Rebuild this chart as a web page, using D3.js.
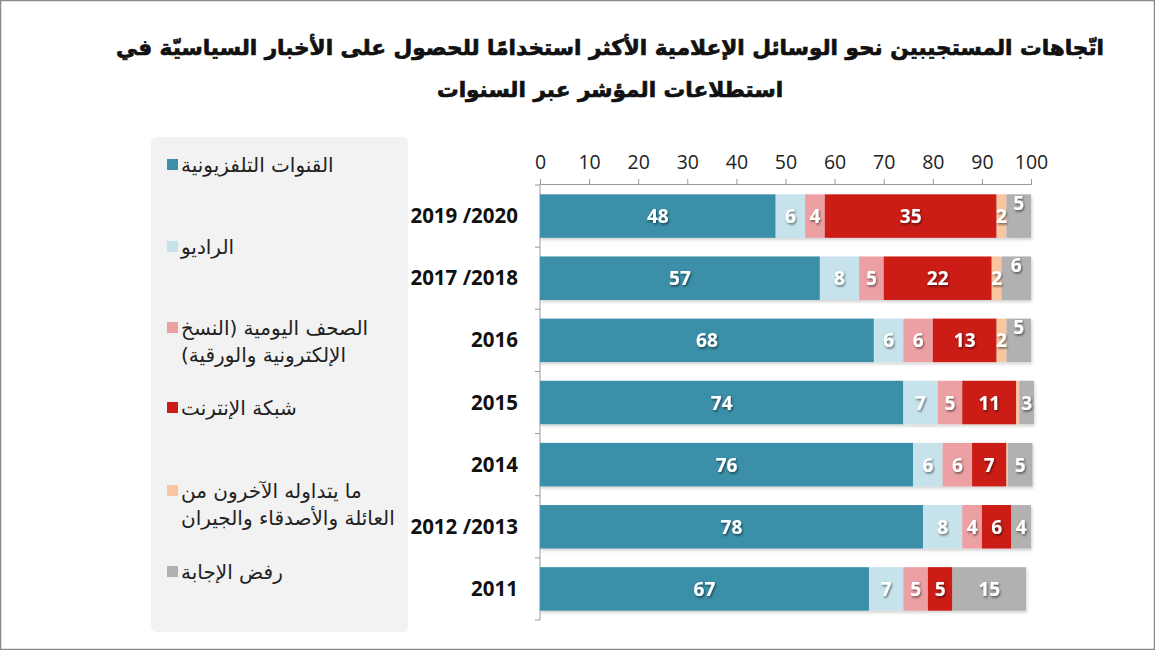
<!DOCTYPE html>
<html><head><meta charset="utf-8">
<script src="https://cdn.jsdelivr.net/npm/d3@7"></script>
<style>
html,body{margin:0;padding:0;background:#fff;}
svg{display:block;}
</style></head>
<body>
<svg id="chart" width="1155" height="650"></svg>
<script>
const titleLines = [
  "اتّجاهات المستجيبين نحو الوسائل الإعلامية الأكثر استخدامًا للحصول على الأخبار السياسيّة في",
  "استطلاعات المؤشر عبر السنوات"
];
const categories = ["2019 /2020", "2017 /2018", "2016", "2015", "2014", "2012 /2013", "2011"];
const seriesNames = [
  ["القنوات التلفزيونية"],
  ["الراديو"],
  ["الصحف اليومية (النسخ", "الإلكترونية والورقية)"],
  ["شبكة الإنترنت"],
  ["ما يتداوله الآخرون من", "العائلة والأصدقاء والجيران"],
  ["رفض الإجابة"]
];
const colors = ["#3b8fa8", "#c6e3ec", "#eca0a4", "#cb1c17", "#f9c6a0", "#b1b1b1"];
const tv       = [48, 57, 68, 74, 76, 78, 67];
const radio    = [6, 8, 6, 7, 6, 8, 7];
const papers   = [4, 5, 6, 5, 6, 4, 5];
const internet = [35, 22, 13, 11, 7, 6, 5];
const others   = [2, 2, 2, 0.6, 0.3, 0, 0];
const refused  = [5, 6, 5, 3, 5, 4, 15];
const xTicks = [0, 10, 20, 30, 40, 50, 60, 70, 80, 90, 100];

const series = [tv, radio, papers, internet, others, refused];
const RLM = "\u200F";

const svg = d3.select("#chart");
const defs = svg.append("defs");
const f = defs.append("filter").attr("id", "tshadow").attr("x", "-30%").attr("y", "-30%").attr("width", "160%").attr("height", "160%");
f.append("feDropShadow").attr("dx", 1).attr("dy", 1.5).attr("stdDeviation", 0.8).attr("flood-color", "#000").attr("flood-opacity", 0.55);
const fb = defs.append("filter").attr("id", "bshadow").attr("x", "-5%").attr("y", "-20%").attr("width", "110%").attr("height", "150%");
fb.append("feDropShadow").attr("dx", 1).attr("dy", 2).attr("stdDeviation", 1.5).attr("flood-color", "#000").attr("flood-opacity", 0.18);

// border
svg.append("rect").attr("x", 0.5).attr("y", 0.5).attr("width", 1154).attr("height", 649)
  .attr("fill", "#fff").attr("stroke", "#8a8a8a").attr("stroke-width", 1.5);

// title
svg.append("g").selectAll("text").data(titleLines).join("text")
  .attr("x", 610).attr("y", (d, i) => 55 + i * 42)
  .attr("text-anchor", "middle")
  .attr("font-family", "DejaVu Sans, sans-serif")
  .attr("font-weight", "bold").attr("font-size", 21.6).attr("fill", "#111")
  .attr("stroke", "#111").attr("stroke-width", 0.7)
  .text(d => RLM + d + RLM);

// legend panel
svg.append("rect").attr("x", 151).attr("y", 137).attr("width", 257).attr("height", 495)
  .attr("rx", 6).attr("fill", "#f2f2f2");

const legendY = [165, 247, 328, 408, 491, 572];
const lg = svg.append("g").selectAll("g").data(seriesNames).join("g")
  .attr("transform", (d, i) => `translate(0,${legendY[i]})`);
lg.append("rect").attr("x", 167).attr("y", -6).attr("width", 11).attr("height", 11)
  .attr("fill", (d, i) => colors[i]);
lg.each(function(lines) {
  d3.select(this).selectAll("text").data(lines).join("text")
    .attr("x", 181).attr("y", (d, j) => j * 27 + 7)
    .attr("font-family", "DejaVu Sans, sans-serif").attr("font-size", 20).attr("fill", "#222")
    .text(d => RLM + d + RLM);
});

// scales
const x = d3.scaleLinear().domain([0, 100]).range([540, 1031]);
const y = d3.scaleBand().domain(categories).range([185, 620]).paddingInner(0.3).paddingOuter(0.15);

// top axis
const ax = svg.append("g").attr("transform", "translate(0,184)")
  .call(d3.axisTop(x).tickValues(xTicks).tickSize(5).tickSizeOuter(5).tickPadding(10));
ax.select(".domain").attr("stroke", "#9a9a9a");
ax.selectAll(".tick line").attr("stroke", "#9a9a9a");
ax.selectAll(".tick text").attr("font-family", "Open Sans, sans-serif").attr("font-size", 19.5).attr("fill", "#222");

// left axis line with ticks between bands
const bounds = categories.map(c => y(c) - y.step() * y.paddingInner() / 2);
bounds.push(y(categories[categories.length - 1]) + y.bandwidth() + y.step() * y.paddingInner() / 2);
const la = svg.append("g");
la.append("line").attr("x1", x(0)).attr("x2", x(0)).attr("y1", 184).attr("y2", bounds[bounds.length - 1]).attr("stroke", "#9a9a9a");
la.selectAll("line.t").data(bounds).join("line").attr("class", "t")
  .attr("x1", x(0) - 5).attr("x2", x(0)).attr("y1", d => d).attr("y2", d => d).attr("stroke", "#9a9a9a");

// category labels
svg.append("g").selectAll("text").data(categories).join("text")
  .attr("x", 518).attr("y", d => y(d) + y.bandwidth() / 2 + 7)
  .attr("text-anchor", "end")
  .attr("font-family", "Open Sans, sans-serif").attr("font-weight", "bold").attr("font-size", 20.5).attr("fill", "#111")
  .text(d => d);

// stacked data
const rows = categories.map((c, i) => {
  let acc = 0;
  return series.map((s, k) => {
    const seg = { cat: c, k, v: s[i], x0: acc, x1: acc + s[i] };
    acc += s[i];
    return seg;
  });
});
const segs = rows.flat();

svg.append("g").attr("filter", "url(#bshadow)").selectAll("rect").data(segs.filter(d => d.v > 0)).join("rect")
  .attr("x", d => x(d.x0)).attr("y", d => y(d.cat))
  .attr("width", d => x(d.x1) - x(d.x0)).attr("height", y.bandwidth())
  .attr("fill", d => colors[d.k]);

// a last label is lifted when the neighbouring narrow segment also carries a label
const lifted = d => d.k === series.length - 1 && series[d.k - 1][categories.indexOf(d.cat)] >= 1;

svg.append("g").attr("filter", "url(#tshadow)").selectAll("text").data(segs.filter(d => d.v >= 1)).join("text")
  .attr("x", d => (x(d.x0) + x(d.x1)) / 2)
  .attr("y", d => y(d.cat) + y.bandwidth() / 2 + 7 - (lifted(d) ? 13 : 0))
  .attr("text-anchor", "middle")
  .attr("font-family", "Open Sans, sans-serif").attr("font-weight", "bold").attr("font-size", 19).attr("fill", "#fff")
  .text(d => d.v);
</script>
</body></html>
